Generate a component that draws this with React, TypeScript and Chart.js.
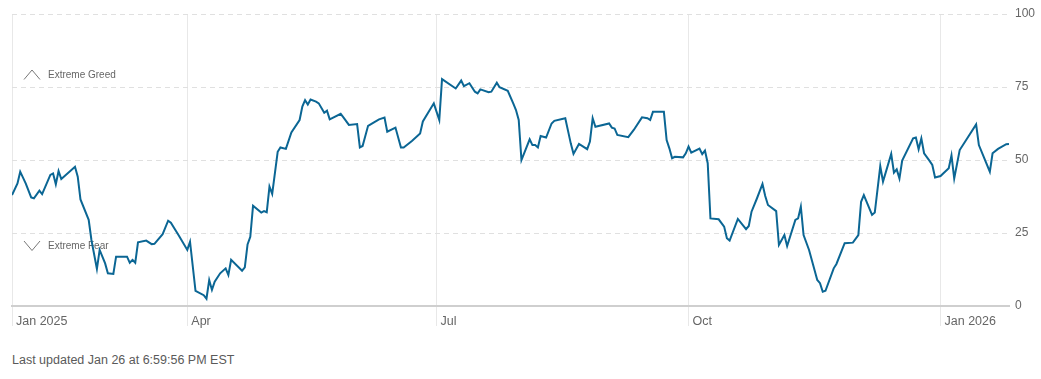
import React, { useEffect, useRef } from "react";
import { Chart, registerables } from "chart.js";

Chart.register(...registerables);

// Days since Jan 27, 2025
const days = [
  0, 2, 3, 5, 7, 8, 10, 11, 14, 15, 16, 17, 18, 23, 24, 25, 28, 29, 31, 32,
  34, 35, 37, 38, 42, 43, 44, 45, 46, 49, 51, 52, 55, 57, 58, 61, 64, 65, 67, 70,
  71, 72, 73, 74, 76, 78, 79, 80, 84, 85, 86, 87, 88, 91, 92, 93, 94, 95, 97, 98,
  100, 102, 105, 106, 107, 108, 109, 111, 112, 114, 115, 116, 120, 121, 123, 126, 127, 128, 130, 132,
  134, 136, 137, 140, 142, 143, 146, 149, 150, 154, 156, 157, 162, 164, 165, 167, 169, 170, 171, 174,
  175, 177, 178, 181, 183, 184, 185, 186, 189, 190, 191, 192, 193, 195, 197, 198, 202, 204, 205, 207,
  210, 211, 212, 213, 218, 219, 220, 221, 225, 227, 230, 232, 233, 234, 238, 239, 240, 241, 242, 245,
  246, 247, 248, 251, 252, 253, 254, 255, 258, 260, 261, 262, 265, 268, 269, 270, 272, 274, 275, 276,
  279, 280, 282, 283, 286, 287, 288, 289, 291, 294, 295, 296, 297, 300, 301, 304, 307, 309, 310, 311,
  314, 315, 317, 318, 321, 322, 323, 324, 325, 329, 330, 331, 332, 333, 335, 336, 337, 339, 342, 343,
  344, 346, 349, 352, 353, 357, 358, 360, 363, 364,
];

const values = [
  38, 42, 46, 42, 37.2, 36.9, 39.5, 38.3, 44.9, 45.4, 41.7, 46.2, 43.5, 47.7, 44.3, 36.5, 29.5, 22.6, 12.7, 19.2,
  14.6, 11.2, 11, 16.9, 16.9, 14.8, 15.8, 14.8, 21.8, 22.4, 21.2, 21.3, 24.6, 29.2, 28.5, 24, 19.2, 22, 5.2, 3.7,
  2.5, 8.9, 5.5, 8.3, 11.2, 12.9, 10.6, 15.8, 12.1, 13.2, 21.1, 23.7, 34.3, 32, 32.5, 32.1, 40.9, 38.4, 52.8, 54.3,
  53.8, 59.4, 63.7, 68.3, 70.5, 69, 70.7, 70, 69.4, 66.2, 66.9, 63.9, 65.8, 64.6, 62, 62.3, 54.3, 54.8, 61.7, 62.8,
  63.9, 64.5, 59.7, 61.1, 54.3, 54.3, 56.5, 59.1, 63.2, 69.4, 63.7, 77.7, 74.5, 77.2, 75.3, 76.3, 73.4, 72.8, 74.2, 73.2,
  73.4, 76.5, 74.9, 73.7, 69.4, 67.1, 63.7, 50, 57.1, 55.1, 55.1, 54.3, 58.2, 57.7, 62.5, 63.4, 64.3, 55.7, 52.1, 55.5,
  53.7, 56.3, 64.3, 61.4, 62.5, 61.1, 60.8, 58.6, 57.8, 60.3, 64.6, 64.3, 63.7, 66.5, 66.5, 56.8, 54, 50.6, 51.1, 50.9,
  52.3, 54.6, 52.5, 53.9, 52, 53.2, 48.9, 30, 29.7, 27.2, 23.2, 22.4, 29.8, 26.3, 27.4, 32.3, 36.9, 41.8, 37.7, 34.6,
  32.5, 20.9, 24.3, 20.5, 29.5, 30, 34, 24.3, 19.2, 8.9, 7.8, 4.9, 5.2, 12.9, 14.4, 21.5, 21.7, 24.3, 35.7, 38,
  31.2, 32, 47.9, 42.6, 52.1, 45.7, 46.8, 43.7, 49.8, 57.4, 57.7, 53.7, 57.4, 52.3, 49.7, 48.3, 44, 44.5, 47.2, 51.6,
  43.7, 53.4, 57.8, 62.2, 55.1, 46, 52.3, 53.8, 55.4, 55.5,
];

const xTickDays = [0, 64, 155, 247, 339];
const xTickLabels = ["Jan 2025", "Apr", "Jul", "Oct", "Jan 2026"];
const yTicks = [0, 25, 50, 75, 100];
const zoneLabels = ["Extreme Greed", "Extreme Fear"];
const footerText = "Last updated Jan 26 at 6:59:56 PM EST";

const FONT = "Arial, 'Liberation Sans', Helvetica, sans-serif";

const zonePlugin = {
  id: "zones",
  beforeDatasetsDraw(chart: any) {
    const { ctx, scales } = chart;
    const y = scales.y;
    const greedY = y.getPixelForValue(75) - 12;
    const fearY = y.getPixelForValue(25) + 13;
    ctx.save();
    ctx.strokeStyle = "#777";
    ctx.lineWidth = 1;
    ctx.beginPath();
    ctx.moveTo(24, greedY + 4.5);
    ctx.lineTo(32, greedY - 5);
    ctx.lineTo(40, greedY + 4.5);
    ctx.stroke();
    ctx.beginPath();
    ctx.moveTo(24, fearY - 5);
    ctx.lineTo(32, fearY + 4.5);
    ctx.lineTo(40, fearY - 5);
    ctx.stroke();
    ctx.fillStyle = "#666";
    ctx.font = `10px ${FONT}`;
    ctx.textBaseline = "middle";
    ctx.textAlign = "left";
    ctx.fillText(zoneLabels[0], 48, greedY + 0.5);
    ctx.fillText(zoneLabels[1], 48, fearY + 0.5);
    ctx.restore();
  },
};

export default function App() {
  const ref = useRef<HTMLCanvasElement | null>(null);
  useEffect(() => {
    if (!ref.current) return;
    const data = days.map((d, i) => ({ x: d, y: values[i] }));
    const chart = new Chart(ref.current, {
      type: "line",
      data: {
        datasets: [
          {
            data,
            borderColor: "#0b6694",
            borderWidth: 2,
            pointRadius: 0,
            tension: 0,
            fill: false,
          },
        ],
      },
      options: {
        animation: false,
        responsive: false,
        devicePixelRatio: 1,
        layout: { padding: { left: 12, top: 14, right: 0, bottom: 0 } },
        plugins: { legend: { display: false }, tooltip: { enabled: false } },
        scales: {
          x: {
            type: "linear",
            min: 0,
            max: 364,
            afterBuildTicks: (scale: any) => {
              scale.ticks = xTickDays.map((v) => ({ value: v }));
            },
            afterFit: (scale: any) => {
              scale.height = 34;
            },
            ticks: {
              autoSkip: false,
              maxRotation: 0,
              align: "start",
              labelOffset: 4,
              padding: -12,
              color: "#666",
              font: { family: FONT, size: 12.5 },
              callback: (v: any) => {
                const i = xTickDays.indexOf(Number(v));
                return i >= 0 ? xTickLabels[i] : "";
              },
            },
            grid: { color: "#e8e8e8", lineWidth: 1, tickLength: 20, drawTicks: true },
            border: { display: true, color: "#cfcfcf", width: 2 },
          },
          y: {
            position: "right",
            min: 0,
            max: 100,
            afterBuildTicks: (scale: any) => {
              scale.ticks = yTicks.map((v) => ({ value: v }));
            },
            afterFit: (scale: any) => {
              scale.width = 32;
            },
            ticks: {
              padding: 6,
              color: "#666",
              font: { family: FONT, size: 12 },
            },
            grid: {
              drawTicks: false,
              color: (c: any) => (c.tick && c.tick.value === 0 ? "rgba(0,0,0,0)" : "#e0e0e0"),
              lineWidth: 1,
            },
            border: { display: false, dash: [5, 4] },
          },
        },
      },
      plugins: [zonePlugin],
    });
    return () => chart.destroy();
  }, []);

  return (
    <div style={{ position: "absolute", left: 0, top: 0, width: 1041, height: 379, background: "#fff" }}>
      <canvas ref={ref} width={1041} height={340} style={{ display: "block", width: 1041, height: 340 }} />
      <div
        style={{
          marginTop: 13,
          marginLeft: 12,
          fontFamily: FONT,
          fontSize: 12.5,
          lineHeight: "14px",
          color: "#5a5a5a",
        }}
      >
        {footerText}
      </div>
    </div>
  );
}
